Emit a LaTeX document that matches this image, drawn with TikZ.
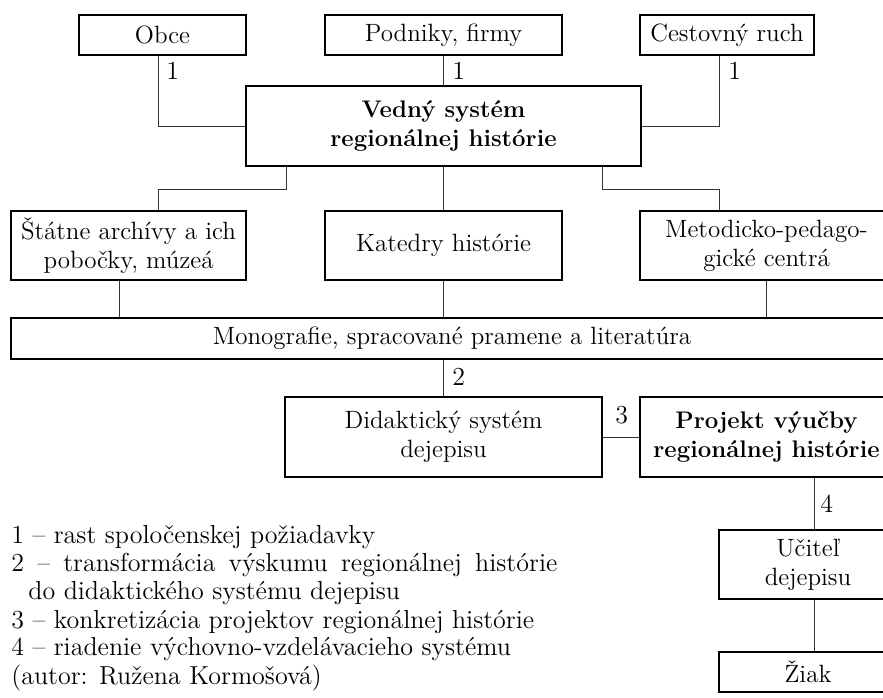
\documentclass[tikz,border=0pt]{standalone}
\usepackage{tikz}
\usetikzlibrary{positioning,calc}

\begin{document}
\begin{tikzpicture}[x=0.5pt, y=-0.5pt,
  box/.style={draw=black, line width=0.65pt, inner sep=0pt, align=center, font={\fontsize{12.5}{14.5}\selectfont}},
  boldbox/.style={box, font={\fontsize{12}{14.5}\selectfont\bfseries}},
  link/.style={draw=black!80, line width=0.5pt},
  num/.style={inner sep=0pt, anchor=base west, font={\fontsize{13}{14.5}\selectfont}},
  legend/.style={inner sep=0pt, anchor=base west, font={\fontsize{13}{14.5}\selectfont}}
]
\useasboundingbox (0,0) rectangle (883,697);
\clip (0,0) rectangle (883,697);
\node[box, minimum width=83.5pt, minimum height=20pt] (obce) at (162.5,35) {Obce};
\node[box, minimum width=118.5pt, minimum height=20pt] (podniky) at (443.5,35) {Podniky, firmy};
\node[box, minimum width=87pt, minimum height=20pt] (cestovny) at (727,35) {Cestovný ruch};
\node[boldbox, minimum width=197.5pt, minimum height=40pt] (vedny) at (443.5,126) {Vedný systém\\regionálnej histórie};
\node[box, minimum width=117.5pt, minimum height=34.5pt] (statne) at (128.5,245.5) {Štátne archívy a ich\\pobočky, múzeá};
\node[box, minimum width=118.5pt, minimum height=34.5pt] (katedry) at (443.5,245.5) {Katedry histórie};
\node[box, minimum width=126.5pt, minimum height=34.5pt] (metod) at (766.5,245.5) {Metodicko-pedago-\\gické centrá};
\node[box, minimum width=441pt, minimum height=20.5pt] (mono) at (452,338.5) {Monografie, spracované pramene a literatúra};
\node[box, minimum width=158.5pt, minimum height=40pt] (didak) at (443.5,437) {Didaktický systém\\dejepisu};
\node[boldbox, minimum width=126.5pt, minimum height=40pt] (projekt) at (766.5,437) {Projekt výučby\\regionálnej histórie};
\node[box, minimum width=89pt, minimum height=34.5pt] (ucitel) at (808,564.5) {Učiteľ\\dejepisu};
\node[box, minimum width=89pt, minimum height=20pt] (ziak) at (808,672) {Žiak};

\coordinate (sdown) at ($(statne.south)+(-9.5,0)$);
\coordinate (pdown) at ($(projekt.south)+(47.5,0)$);
\coordinate (udown) at ($(ucitel.south)+(6,0)$);

\draw[link] ($(obce.south)+(-4.5,0)$) |- (vedny.west);
\draw[link] (podniky.south) -- (vedny.north);
\draw[link] ($(cestovny.south)+(-8,0)$) |- (vedny.east);
\draw[link] ($(vedny.south)+(-157.5,0)$) -- ++(0,23) -| ($(statne.north)+(29.5,0)$);
\draw[link] (vedny.south) -- (katedry.north);
\draw[link] ($(vedny.south)+(158.5,0)$) -- ++(0,23) -| ($(metod.north)+(-47.5,0)$);
\draw[link] (sdown) -- (sdown |- mono.north);
\draw[link] (katedry.south) -- (katedry.south |- mono.north);
\draw[link] (metod.south) -- (metod.south |- mono.north);
\draw[link] (didak.north |- mono.south) -- (didak.north);
\draw[link] (didak.east) -- (projekt.west);
\draw[link] (pdown) -- (pdown |- ucitel.north);
\draw[link] (udown) -- (udown |- ziak.north);

\node[num] (n1a) at (166,79) {1};
\node[num] (n1b) at (452,79) {1};
\node[num] (n1c) at (728,79) {1};
\node[num] (n2) at (452,385) {2};
\node[num] (n3) at (615,423) {3};
\node[num] (n4) at (820,512) {4};

\node[legend] (l1) at (11,543) {1 -- rast spoločenskej požiadavky};
\node[legend] (l2) at (11,571) {\makebox[273pt][s]{2 -- transformácia výskumu regionálnej histórie}};
\node[legend] (l2b) at (28,599) {do didaktického systému dejepisu};
\node[legend] (l3) at (11,628) {3 -- konkretizácia projektov regionálnej histórie};
\node[legend] (l4) at (11,655) {4 -- riadenie výchovno-vzdelávacieho systému};
\node[legend] (l5) at (11,684) {(autor: Ružena Kormošová)};
\end{tikzpicture}
\end{document}
